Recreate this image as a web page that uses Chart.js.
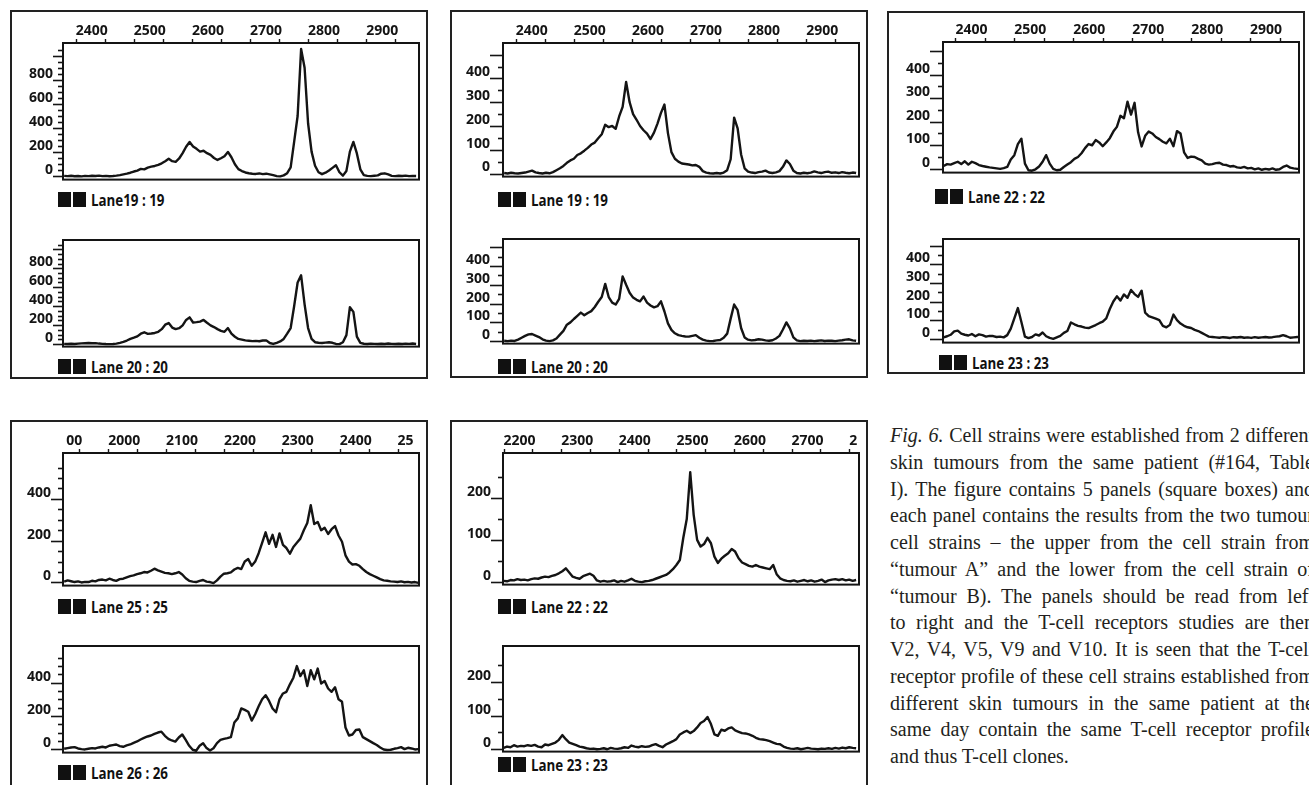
<!DOCTYPE html>
<html>
<head>
<meta charset="utf-8">
<script src="https://cdn.jsdelivr.net/npm/chart.js@4.4.1/dist/chart.umd.min.js"></script>
<style>
  html, body { margin: 0; padding: 0; background: #fff; }
  body { position: relative; width: 1309px; height: 785px; overflow: hidden; }
  .panel { position: absolute; border: 2px solid #222; box-sizing: border-box; }
  .lane { position: absolute; display: flex; align-items: center; height: 15px; white-space: nowrap;
          font: 700 15.5px "Open Sans", "DejaVu Sans", sans-serif; color: #111; }
  .lane i { display: block; width: 13px; height: 15px; background: #111; margin-right: 1.5px; }
  .lane span { display: block; margin-left: 4px; transform: scaleX(0.86); transform-origin: 0 50%; }
  .caption { position: absolute; left: 890px; top: 422px; width: 424px; color: #231f20;
             font: 20px/26.75px "Liberation Serif", "Times New Roman", serif; }
  .caption div { text-align: justify; text-align-last: justify; }
  .caption div:last-child { text-align-last: left; }
</style>
</head>
<body>

<div class="panel" style="left:10px;top:10px;width:418px;height:369px"></div>
<div class="panel" style="left:450px;top:10px;width:418px;height:368px"></div>
<div class="panel" style="left:887px;top:11px;width:418px;height:363px"></div>
<div class="panel" style="left:10px;top:420px;width:418px;height:380px"></div>
<div class="panel" style="left:450px;top:420px;width:418px;height:380px"></div>

<div class="lane" style="left:58px;top:192px"><i></i><i></i><span>Lane19 : 19</span></div>
<div class="lane" style="left:58px;top:359px"><i></i><i></i><span>Lane 20 : 20</span></div>
<div class="lane" style="left:498px;top:192px"><i></i><i></i><span>Lane 19 : 19</span></div>
<div class="lane" style="left:498px;top:359px"><i></i><i></i><span>Lane 20 : 20</span></div>
<div class="lane" style="left:935px;top:189px"><i></i><i></i><span>Lane 22 : 22</span></div>
<div class="lane" style="left:939px;top:355px"><i></i><i></i><span>Lane 23 : 23</span></div>
<div class="lane" style="left:58px;top:599px"><i></i><i></i><span>Lane 25 : 25</span></div>
<div class="lane" style="left:58px;top:765px"><i></i><i></i><span>Lane 26 : 26</span></div>
<div class="lane" style="left:498px;top:599px"><i></i><i></i><span>Lane 22 : 22</span></div>
<div class="lane" style="left:498px;top:757px"><i></i><i></i><span>Lane 23 : 23</span></div>

<div class="caption">
<div><i>Fig. 6.</i> Cell strains were established from 2 different</div>
<div>skin tumours from the same patient (#164, Table</div>
<div>I). The figure contains 5 panels (square boxes) and</div>
<div>each panel contains the results from the two tumour</div>
<div>cell strains – the upper from the cell strain from</div>
<div>“tumour A” and the lower from the cell strain of</div>
<div>“tumour B). The panels should be read from left</div>
<div>to right and the T-cell receptors studies are then</div>
<div>V2, V4, V5, V9 and V10. It is seen that the T-cell</div>
<div>receptor profile of these cell strains established from</div>
<div>different skin tumours in the same patient at the</div>
<div>same day contain the same T-cell receptor profile</div>
<div>and thus T-cell clones.</div>
</div>

<script>
// fragment sizes (x) shared by the V2, V4 and V5 panels
const X_A = [
  2380, 2386, 2392, 2398, 2404, 2410, 2416, 2422, 2428, 2434,
  2440, 2446, 2452, 2458, 2464, 2470, 2476, 2482, 2488, 2494,
  2500, 2506, 2512, 2518, 2524, 2530, 2536, 2542, 2548, 2554,
  2560, 2566, 2572, 2578, 2584, 2590, 2596, 2602, 2608, 2614,
  2620, 2626, 2632, 2638, 2644, 2650, 2656, 2662, 2668, 2674,
  2680, 2686, 2692, 2698, 2704, 2710, 2716, 2722, 2728, 2734,
  2740, 2746, 2752, 2758, 2764, 2770, 2776, 2782, 2788, 2794,
  2800, 2806, 2812, 2818, 2824, 2830, 2836, 2842, 2848, 2854,
  2860, 2866, 2872, 2878, 2884, 2890, 2896, 2902, 2908, 2914,
  2920, 2926, 2932, 2938, 2944, 2950, 2956, 2962, 2968, 2974,
  2980, 2986
];
// V9 panel
const X_B = [
  1924, 1930, 1936, 1942, 1948, 1954, 1960, 1966, 1972, 1978,
  1984, 1990, 1996, 2002, 2008, 2014, 2020, 2026, 2032, 2038,
  2044, 2050, 2056, 2062, 2068, 2074, 2080, 2086, 2092, 2098,
  2104, 2110, 2116, 2122, 2128, 2134, 2140, 2146, 2152, 2158,
  2164, 2170, 2176, 2182, 2188, 2194, 2200, 2206, 2212, 2218,
  2224, 2230, 2236, 2242, 2248, 2254, 2260, 2266, 2272, 2278,
  2284, 2290, 2296, 2302, 2308, 2314, 2320, 2326, 2332, 2338,
  2344, 2350, 2356, 2362, 2368, 2374, 2380, 2386, 2392, 2398,
  2404, 2410, 2416, 2422, 2428, 2434, 2440, 2446, 2452, 2458,
  2464, 2470, 2476, 2482, 2488, 2494, 2500, 2506, 2512, 2518,
  2524, 2530, 2536
];
// V10 panel
const X_C = [
  2200, 2206, 2212, 2218, 2224, 2230, 2236, 2242, 2248, 2254,
  2260, 2266, 2272, 2278, 2284, 2290, 2296, 2302, 2308, 2314,
  2320, 2326, 2332, 2338, 2344, 2350, 2356, 2362, 2368, 2374,
  2380, 2386, 2392, 2398, 2404, 2410, 2416, 2422, 2428, 2434,
  2440, 2446, 2452, 2458, 2464, 2470, 2476, 2482, 2488, 2494,
  2500, 2506, 2512, 2518, 2524, 2530, 2536, 2542, 2548, 2554,
  2560, 2566, 2572, 2578, 2584, 2590, 2596, 2602, 2608, 2614,
  2620, 2626, 2632, 2638, 2644, 2650, 2656, 2662, 2668, 2674,
  2680, 2686, 2692, 2698, 2704, 2710, 2716, 2722, 2728, 2734,
  2740, 2746, 2752, 2758, 2764, 2770, 2776, 2782, 2788, 2794,
  2800, 2806, 2812
];

// signal per lane
const V2_LANE19 = [
  4, 2, 5, 1, 3, 0, 4, 2, 5, 3,
  6, 2, 4, 1, 3, 6, 10, 16, 22, 30,
  40, 48, 62, 58, 72, 80, 86, 95, 108, 125,
  145, 126, 120, 148, 192, 245, 285, 248, 228, 205,
  212, 192, 178, 152, 136, 150, 166, 202, 158, 100,
  60, 44, 32, 26, 22, 20, 24, 18, 22, 16,
  10, 2, 0, 8, 26, 75, 285, 500, 1055, 900,
  440, 205, 88, 34, 18, 30, 48, 70, 92, 34,
  6, 45, 205, 285, 190, 58, 10, 4, 2, 5,
  8, 22, 25, 16, 4, 2, 5, 3, 6, 2,
  4, 3
];
const V2_LANE20 = [
  3, 1, 4, 2, 5, 8, 10, 12, 9, 11,
  6, 3, 1, 0, 2, 5, 14, 24, 38, 55,
  68, 82, 110, 125, 108, 112, 118, 130, 158, 205,
  222, 175, 158, 168, 198, 255, 282, 228, 232, 238,
  255, 225, 198, 180, 158, 140, 130, 170, 110, 78,
  55, 48, 40, 36, 32, 34, 30, 38, 40, 12,
  2, 14, 28, 55, 110, 170, 400, 650, 725, 420,
  170, 55, 20, 14, 12, 16, 20, 14, 2, 0,
  20, 95, 390, 340, 80, 14, 4, 2, 5, 3,
  1, 4, 2, 6, 3, 1, 4, 2, 5, 3,
  6, 2
];
const V4_LANE19 = [
  2, 0, 3, 1, 0, 2, 4, 8, 12, 5,
  2, 0, 3, 1, 6, 14, 22, 32, 45, 55,
  62, 78, 85, 96, 108, 122, 130, 148, 165, 205,
  195, 200, 188, 240, 280, 385, 300, 250, 226, 200,
  182, 168, 145, 172, 210, 255, 290, 170, 90, 62,
  50, 42, 40, 38, 34, 36, 28, 10, 4, 1,
  0, 2, 0, 4, 14, 60, 235, 190, 80, 22,
  8, 4, 2, 6, 8, 12, 4, 2, 5, 10,
  28, 55, 40, 12, 2, 0, 3, 1, 4, 9,
  5, 2, 6, 8, 3, 5, 2, 6, 3, 1,
  4, 2
];
const V4_LANE20 = [
  2, 0, 3, 1, 8, 18, 28, 36, 38, 30,
  22, 10, 3, 0, 4, 14, 35, 55, 88, 100,
  118, 135, 152, 138, 150, 160, 182, 210, 235, 305,
  235, 205, 195, 225, 345, 300, 258, 232, 220, 212,
  238, 205, 190, 180, 186, 212, 158, 95, 60, 42,
  32, 28, 25, 24, 28, 32, 18, 8, 3, 0,
  1, 4, 6, 18, 40, 120, 195, 165, 70, 20,
  8, 4, 6, 10, 8, 4, 2, 5, 14, 28,
  62, 100, 68, 20, 4, 0, 2, 1, 3, 0,
  2, 4, 1, 3, 2, 0, 3, 5, 8, 10,
  4, 2
];
const V5_LANE22 = [
  12, 20, 18, 24, 30, 20, 32, 18, 30, 24,
  16, 12, 9, 6, 4, 2, 0, 3, 8, 40,
  58, 105, 128, 22, -6, -8, -2, 10, 30, 58,
  22, 0, -6, -4, 8, 18, 28, 42, 50, 66,
  88, 105, 100, 122, 112, 96, 112, 130, 158, 178,
  225, 215, 285, 230, 280, 155, 95, 140, 158, 150,
  135, 126, 115, 108, 128, 96, 160, 150, 70, 46,
  52, 50, 42, 36, 22, 18, 20, 24, 26, 18,
  16, 10, 12, 6, 4, 8, 2, 4, -2, 2,
  -4, 0, -3, 2, -4, -2, 8, 14, 5, 2,
  0, 1
];
const V5_LANE23 = [
  8, 14, 22, 40, 44, 28, 22, 18, 26, 14,
  24, 20, 12, 16, 15, 10, 12, 8, 20, 55,
  110, 165, 90, 12, 4, 10, 24, 18, 34, 14,
  5, 0, 8, 16, 32, 42, 88, 78, 70, 66,
  60, 58, 66, 74, 84, 92, 110, 160, 200, 228,
  205, 238, 220, 262, 240, 225, 258, 140, 122, 115,
  108, 100, 70, 62, 75, 130, 100, 82, 70, 62,
  58, 48, 42, 32, 22, 12, 10, 8, 6, 9,
  7, 5, 9, 7, 10, 6, 8, 5, 9, 6,
  8, 10, 7, 9, 12, 14, 20, 14, 6, 8,
  10, 9
];
const V9_LANE25 = [
  4, 10, 6, 2, 5, 0, 3, 2, 8, 5,
  12, 14, 10, 18, 12, 8, 16, 18, 24, 30,
  34, 40, 44, 50, 48, 56, 66, 58, 52, 46,
  44, 40, 44, 50, 38, 20, 8, 4, 2, 8,
  12, 4, 2, -3, 10, 28, 42, 44, 48, 62,
  70, 64, 100, 112, 80, 100, 140, 190, 240, 185,
  228, 170, 235, 180, 165, 138, 170, 190, 210, 250,
  285, 370, 280, 290, 250, 262, 232, 255, 270, 225,
  195, 130, 100, 86, 88, 80, 64, 50, 40, 32,
  24, 16, 10, 8, 5, 4, 2, 5, 1, 3,
  0, 2, -2
];
const V9_LANE26 = [
  2, 6, 10, 12, 4, 0, -2, 2, 6, 4,
  10, 14, 10, 20, 24, 28, 18, 14, 22, 28,
  38, 46, 58, 68, 76, 82, 92, 100, 105, 80,
  62, 52, 45, 70, 88, 55, 20, -4, -10, 20,
  35, 6, -8, 5, 36, 55, 62, 66, 72, 160,
  185, 245, 236, 225, 172, 210, 258, 300, 325, 290,
  245, 222, 300, 335, 345, 390, 430, 500, 440, 475,
  380, 475, 420, 485, 395, 410, 365, 345, 372, 300,
  285, 130, 82, 88, 115, 118, 72, 60, 48, 36,
  25, 10, -2, -5, -4, 2, 6, 12, 0, 8,
  4, -2, 0
];
const V10_LANE22 = [
  2, 1, 4, 3, 6, 4, 5, 3, 6, 8,
  7, 10, 12, 11, 14, 16, 20, 25, 32, 22,
  12, 9, 7, 13, 16, 19, 14, 3, 0, 2,
  0, 1, 3, -1, 2, 0, 3, 7, 2, 0,
  -1, 1, 2, 4, 7, 10, 13, 16, 22, 30,
  40, 52, 105, 150, 262, 160, 100, 84, 90, 105,
  92, 60, 45, 55, 62, 68, 78, 72, 56, 46,
  42, 38, 36, 40, 36, 34, 32, 30, 40, 18,
  8, 4, 2, 1, 3, 0, 2, 4, 1, 3,
  0, 2, 5, -1, 3, 5, 6, 4, 6, 3,
  5, 2, 4
];
const V10_LANE23 = [
  4, 8, 6, 12, 8, 10, 9, 12, 10, 13,
  8, 6, 14, 12, 16, 20, 28, 42, 30, 20,
  16, 12, 8, 6, 3, 1, 2, 0, 1, 3,
  0, 4, 2, 1, 3, 6, 4, 11, 8, 6,
  9, 7, 8, 12, 15, 10, 6, 14, 19, 24,
  30, 44, 50, 55, 48, 54, 65, 78, 84, 96,
  75, 44, 40, 58, 55, 62, 65, 56, 52, 48,
  47, 44, 40, 34, 30, 29, 27, 24, 20, 16,
  15, 8, 4, 2, 1, 3, 0, 2, 4, 2,
  1, 0, 2, 1, 3, 1, 4, 2, 5, 3,
  6, 4, 3
];

const INK = '#141414';
const AXIS_FONT = '700 14px "Open Sans", "DejaVu Sans", sans-serif';

// plot box, tick marks and the clipped size labels along the top
const frame = {
  id: 'frame',
  afterDraw(chart, args, o) {
    const { ctx, chartArea: a, scales: { x, y } } = chart;
    ctx.save();
    ctx.strokeStyle = INK;
    ctx.fillStyle = INK;
    ctx.lineWidth = 2;
    ctx.strokeRect(a.left, a.top, a.right - a.left, a.bottom - a.top);

    ctx.lineWidth = 1.6;
    for (const t of y.ticks) {
      const py = Math.round(y.getPixelForValue(t.value)) + 0.5;
      if (py < a.top + 5 || py > a.bottom) continue;
      const len = t.value % o.major === 0 ? o.pad : 5;
      ctx.beginPath();
      ctx.moveTo(a.left - len, py);
      ctx.lineTo(a.left, py);
      ctx.stroke();
    }

    if (o.top) {
      ctx.lineWidth = 1.4;
      for (const t of x.ticks) {
        const px = Math.round(x.getPixelForValue(t.value)) + 0.5;
        ctx.beginPath();
        ctx.moveTo(px, a.top - 4);
        ctx.lineTo(px, a.top);
        ctx.stroke();
      }
      // labels start at their tick; digits outside the plot width are dropped
      ctx.font = AXIS_FONT;
      ctx.textAlign = 'left';
      ctx.textBaseline = 'middle';
      for (let v = Math.floor(x.min / 100) * 100; v <= x.max; v += 100) {
        let cx = x.getPixelForValue(v);
        for (const ch of String(v)) {
          const w = ctx.measureText(ch).width;
          if (cx >= a.left && cx + w <= a.right) ctx.fillText(ch, cx, a.top - 11.5);
          cx += w;
        }
      }
    }
    ctx.restore();
  }
};

const PLOTS = [
  { xs: X_A, ys: V2_LANE19,  box: [63, 43, 419, 186],    xr: [2378, 2991], yr: [-27, 1105], major: 200, labelMax: 800, pad: 10, top: true },
  { xs: X_A, ys: V2_LANE20,  box: [63, 212, 419, 353],   xr: [2378, 2991], yr: [-26, 1098], major: 200, labelMax: 800, pad: 10, top: false },
  { xs: X_A, ys: V4_LANE19,  box: [503, 43, 859, 186],   xr: [2378, 2991], yr: [-13, 549],  major: 100, labelMax: 400, pad: 13, top: true },
  { xs: X_A, ys: V4_LANE20,  box: [503, 211, 859, 353],  xr: [2378, 2991], yr: [-13, 544],  major: 100, labelMax: 400, pad: 13, top: false },
  { xs: X_A, ys: V5_LANE22,  box: [943, 42, 1299, 182],  xr: [2379, 2983], yr: [-16, 538],  major: 100, labelMax: 400, pad: 13, top: true },
  { xs: X_A, ys: V5_LANE23,  box: [943, 211, 1299, 352], xr: [2379, 2983], yr: [-20, 535],  major: 100, labelMax: 400, pad: 13, top: false },
  { xs: X_B, ys: V9_LANE25,  box: [63, 453, 419, 594],   xr: [1922, 2537], yr: [-15, 620],  major: 200, labelMax: 400, pad: 12, top: true },
  { xs: X_B, ys: V9_LANE26,  box: [63, 618, 419, 761],   xr: [1922, 2537], yr: [-21, 621],  major: 200, labelMax: 400, pad: 12, top: false },
  { xs: X_C, ys: V10_LANE22, box: [503, 453, 859, 593],  xr: [2199, 2817], yr: [-7, 308],   major: 100, labelMax: 200, pad: 12, top: true },
  { xs: X_C, ys: V10_LANE23, box: [503, 618, 859, 760],  xr: [2199, 2817], yr: [-7, 307],   major: 100, labelMax: 200, pad: 12, top: false }
];

PLOTS.forEach(p => {
  const [L, T, R, B] = p.box;
  const head = p.top ? 40 : 12;
  const cv = document.createElement('canvas');
  cv.width = R - L + 68;
  cv.height = B - T + head + 12;
  cv.style.cssText = `position:absolute;left:${L - 60}px;top:${T - head}px;width:${cv.width}px;height:${cv.height}px`;
  document.body.appendChild(cv);

  new Chart(cv, {
    type: 'line',
    data: {
      labels: p.xs,
      datasets: [{
        data: p.ys,
        borderColor: INK,
        borderWidth: 2.4,
        borderJoinStyle: 'round',
        pointRadius: 0,
        fill: false,
        tension: 0
      }]
    },
    options: {
      responsive: false,
      animation: false,
      events: [],
      layout: { padding: { left: 0, right: 8, top: 12, bottom: 12 } },
      plugins: {
        legend: { display: false },
        tooltip: { enabled: false },
        frame: { major: p.major, pad: p.pad, top: p.top }
      },
      scales: {
        x: {
          type: 'linear',
          position: 'top',
          display: p.top,
          min: p.xr[0],
          max: p.xr[1],
          afterFit: s => { s.height = 28; },
          grid: { display: false, drawTicks: false },
          border: { display: false },
          ticks: { display: false, stepSize: 50, autoSkip: false, includeBounds: false }
        },
        y: {
          type: 'linear',
          min: p.yr[0],
          max: p.yr[1],
          afterFit: s => { s.width = 60; },
          grid: { display: false, drawTicks: false },
          border: { display: false },
          ticks: {
            stepSize: 50,
            autoSkip: false,
            includeBounds: false,
            padding: p.pad,
            labelOffset: -6,
            color: INK,
            font: { family: "'Open Sans', 'DejaVu Sans', sans-serif", size: 14, weight: '700' },
            callback: v => (v >= 0 && v <= p.labelMax && v % p.major === 0) ? String(v) : ''
          }
        }
      }
    },
    plugins: [frame]
  });
});
</script>
</body>
</html>
